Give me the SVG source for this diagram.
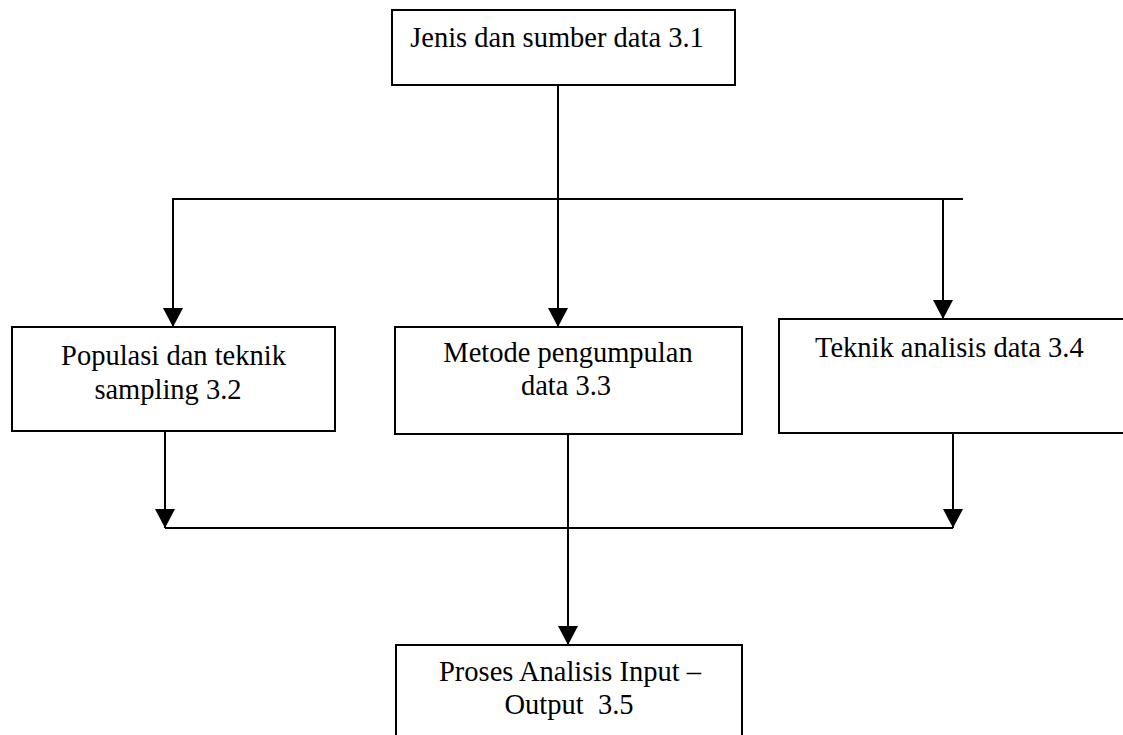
<svg xmlns="http://www.w3.org/2000/svg" width="1123" height="735" viewBox="0 0 1123 735">
  <style>
    .box { fill: #ffffff; stroke: #000000; stroke-width: 2; }
    .lbl { font-family: "Liberation Serif", "Times New Roman", serif; font-size: 28.5px; fill: #000000; text-anchor: middle; }
    .lbl-start { font-family: "Liberation Serif", "Times New Roman", serif; font-size: 28.5px; fill: #000000; }
    .wire { fill: none; stroke: #000000; stroke-width: 2; }
  </style>
  <defs>
    <marker id="arrow" viewBox="0 0 19 20" refX="19" refY="10" markerWidth="19" markerHeight="20" markerUnits="userSpaceOnUse" orient="auto">
      <path d="M0,0 L19,10 L0,20 z" fill="#000000"/>
    </marker>
  </defs>
  <rect width="1123" height="735" fill="#ffffff"/>

  <!-- connectors -->
  <g id="connectors">
    <line class="wire" x1="558" y1="85" x2="558" y2="327" marker-end="url(#arrow)"/>
    <line class="wire" x1="172" y1="199" x2="963" y2="199"/>
    <line class="wire" x1="173" y1="198" x2="173" y2="327" marker-end="url(#arrow)"/>
    <line class="wire" x1="943" y1="199" x2="943" y2="319" marker-end="url(#arrow)"/>
    <line class="wire" x1="165" y1="432" x2="165" y2="528" marker-end="url(#arrow)"/>
    <line class="wire" x1="953" y1="433" x2="953" y2="528" marker-end="url(#arrow)"/>
    <line class="wire" x1="165" y1="528" x2="953" y2="528"/>
    <line class="wire" x1="568" y1="434" x2="568" y2="645" marker-end="url(#arrow)"/>
  </g>

  <g id="node-jenis">
    <rect class="box" x="392" y="10" width="343" height="75"/>
    <text class="lbl" x="557" y="47">Jenis dan sumber data 3.1</text>
  </g>

  <g id="node-populasi">
    <rect class="box" x="12" y="327" width="323" height="104"/>
    <text class="lbl" x="173.5" y="365">Populasi dan teknik</text>
    <text class="lbl" x="168" y="399">sampling 3.2</text>
  </g>

  <g id="node-metode">
    <rect class="box" x="395" y="327" width="347" height="107"/>
    <text class="lbl" x="568" y="362">Metode pengumpulan</text>
    <text class="lbl" x="566" y="395">data 3.3</text>
  </g>

  <g id="node-teknik">
    <rect class="box" x="779" y="319" width="360" height="114"/>
    <text class="lbl-start" x="815" y="357">Teknik analisis data 3.4</text>
  </g>

  <g id="node-proses">
    <rect class="box" x="396" y="645" width="346" height="100"/>
    <text class="lbl" x="570" y="681">Proses Analisis Input –</text>
    <text class="lbl" x="569" y="714">Output&#160; 3.5</text>
  </g>
</svg>
